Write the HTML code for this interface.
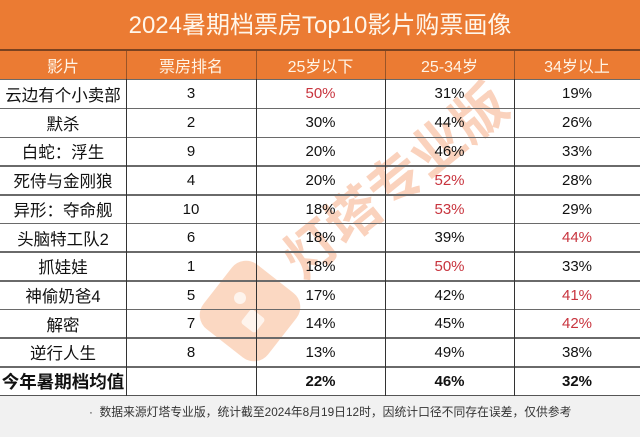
<!DOCTYPE html>
<html><head><meta charset="utf-8">
<style>
*{margin:0;padding:0;box-sizing:border-box}
html,body{width:640px;height:437px;overflow:hidden;background:#fff}
body{position:relative;font-family:"Liberation Sans","Noto Sans CJK SC",sans-serif;color:#111}
.title{position:absolute;left:0;top:0;width:640px;height:50px;background:#EB7B33;color:#fff6ea;font-size:24px;line-height:52px;text-align:center;letter-spacing:0px}
.hdr{position:absolute;left:0;top:49px;width:640px;height:30px;background:#EB7B33;border-top:2px solid #7a4220}
.c{position:absolute;display:flex;align-items:center;justify-content:center;white-space:nowrap}
.h{color:#fff4e6;font-size:16px}
.n{font-size:16.5px;color:#111}
.v{font-size:15px;color:#111}
.r{color:#c8343e}
.b{font-weight:bold}
.hl{position:absolute;left:0;width:640px;height:1.5px;background:#6a6a6a}
.vl{position:absolute;width:1.3px;background:#333}
.foot{position:absolute;left:0;top:396px;width:640px;height:41px;background:#f1f1f1;color:#333;font-size:11.8px;line-height:32px}
.foot span{position:absolute;left:89px;top:0}
</style></head><body>
<div class="title">2024暑期档票房Top10影片购票画像</div>
<div class="hdr"></div>

<svg style="position:absolute;left:0;top:0" width="640" height="437">
  <g opacity="0.38">
    <rect x="209" y="270" width="82" height="82" rx="18" transform="rotate(38 250 311)" fill="#f59a62"/>
    <circle cx="240" cy="298" r="6" fill="#fde3d2"/>
    <rect x="244" y="312" width="18" height="18" rx="3" transform="rotate(38 253 321)" fill="#fde3d2"/>
    <text x="396" y="200" font-size="54" fill="#f28a55" text-anchor="middle" transform="rotate(-39 396 182)" font-family="Noto Sans CJK SC, sans-serif" font-weight="bold">灯塔专业版</text>
  </g>
</svg>

<div class="foot"><span>·&nbsp;&nbsp;数据来源灯塔专业版，统计截至2024年8月19日12时，因统计口径不同存在误差，仅供参考</span></div>

<div class="c h" style="left:0;top:50px;width:126px;height:29px">影片</div>
<div class="c h" style="left:126px;top:50px;width:130px;height:29px">票房排名</div>
<div class="c h" style="left:256px;top:50px;width:129px;height:29px">25岁以下</div>
<div class="c h" style="left:385px;top:50px;width:129px;height:29px">25-34岁</div>
<div class="c h" style="left:514px;top:50px;width:126px;height:29px">34岁以上</div>

<div class="hl" style="top:78.5px"></div>
<div class="hl" style="top:107.5px"></div>
<div class="hl" style="top:136.5px"></div>
<div class="hl" style="top:165px"></div>
<div class="hl" style="top:194px"></div>
<div class="hl" style="top:222.5px"></div>
<div class="hl" style="top:251px"></div>
<div class="hl" style="top:280px"></div>
<div class="hl" style="top:308.5px"></div>
<div class="hl" style="top:337px"></div>
<div class="hl" style="top:366px"></div>
<div class="hl" style="top:394.5px;background:#555"></div>

<div class="vl" style="left:125.5px;top:51px;height:28px;background:#9a5528"></div>
<div class="vl" style="left:255.5px;top:51px;height:28px;background:#9a5528"></div>
<div class="vl" style="left:384.5px;top:51px;height:28px;background:#9a5528"></div>
<div class="vl" style="left:513.5px;top:51px;height:28px;background:#9a5528"></div>
<div class="vl" style="left:125.5px;top:79px;height:317px"></div>
<div class="vl" style="left:255.5px;top:79px;height:317px"></div>
<div class="vl" style="left:384.5px;top:79px;height:317px"></div>
<div class="vl" style="left:513.5px;top:79px;height:317px"></div>

<div class="c n" style="left:0;top:79px;width:126px;height:29px">云边有个小卖部</div>
<div class="c v" style="left:126px;top:79px;width:130px;height:29px">3</div>
<div class="c v r" style="left:256px;top:79px;width:129px;height:29px">50%</div>
<div class="c v" style="left:385px;top:79px;width:129px;height:29px">31%</div>
<div class="c v" style="left:514px;top:79px;width:126px;height:29px">19%</div>

<div class="c n" style="left:0;top:108px;width:126px;height:29px">默杀</div>
<div class="c v" style="left:126px;top:108px;width:130px;height:29px">2</div>
<div class="c v" style="left:256px;top:108px;width:129px;height:29px">30%</div>
<div class="c v" style="left:385px;top:108px;width:129px;height:29px">44%</div>
<div class="c v" style="left:514px;top:108px;width:126px;height:29px">26%</div>

<div class="c n" style="left:0;top:137px;width:126px;height:28px">白蛇：浮生</div>
<div class="c v" style="left:126px;top:137px;width:130px;height:28px">9</div>
<div class="c v" style="left:256px;top:137px;width:129px;height:28px">20%</div>
<div class="c v" style="left:385px;top:137px;width:129px;height:28px">46%</div>
<div class="c v" style="left:514px;top:137px;width:126px;height:28px">33%</div>

<div class="c n" style="left:0;top:166px;width:126px;height:28px">死侍与金刚狼</div>
<div class="c v" style="left:126px;top:166px;width:130px;height:28px">4</div>
<div class="c v" style="left:256px;top:166px;width:129px;height:28px">20%</div>
<div class="c v r" style="left:385px;top:166px;width:129px;height:28px">52%</div>
<div class="c v" style="left:514px;top:166px;width:126px;height:28px">28%</div>

<div class="c n" style="left:0;top:195px;width:126px;height:28px">异形：夺命舰</div>
<div class="c v" style="left:126px;top:195px;width:130px;height:28px">10</div>
<div class="c v" style="left:256px;top:195px;width:129px;height:28px">18%</div>
<div class="c v r" style="left:385px;top:195px;width:129px;height:28px">53%</div>
<div class="c v" style="left:514px;top:195px;width:126px;height:28px">29%</div>

<div class="c n" style="left:0;top:223px;width:126px;height:29px">头脑特工队2</div>
<div class="c v" style="left:126px;top:223px;width:130px;height:29px">6</div>
<div class="c v" style="left:256px;top:223px;width:129px;height:29px">18%</div>
<div class="c v" style="left:385px;top:223px;width:129px;height:29px">39%</div>
<div class="c v r" style="left:514px;top:223px;width:126px;height:29px">44%</div>

<div class="c n" style="left:0;top:252px;width:126px;height:28px">抓娃娃</div>
<div class="c v" style="left:126px;top:252px;width:130px;height:28px">1</div>
<div class="c v" style="left:256px;top:252px;width:129px;height:28px">18%</div>
<div class="c v r" style="left:385px;top:252px;width:129px;height:28px">50%</div>
<div class="c v" style="left:514px;top:252px;width:126px;height:28px">33%</div>

<div class="c n" style="left:0;top:281px;width:126px;height:28px">神偷奶爸4</div>
<div class="c v" style="left:126px;top:281px;width:130px;height:28px">5</div>
<div class="c v" style="left:256px;top:281px;width:129px;height:28px">17%</div>
<div class="c v" style="left:385px;top:281px;width:129px;height:28px">42%</div>
<div class="c v r" style="left:514px;top:281px;width:126px;height:28px">41%</div>

<div class="c n" style="left:0;top:309px;width:126px;height:29px">解密</div>
<div class="c v" style="left:126px;top:309px;width:130px;height:29px">7</div>
<div class="c v" style="left:256px;top:309px;width:129px;height:29px">14%</div>
<div class="c v" style="left:385px;top:309px;width:129px;height:29px">45%</div>
<div class="c v r" style="left:514px;top:309px;width:126px;height:29px">42%</div>

<div class="c n" style="left:0;top:338px;width:126px;height:28px">逆行人生</div>
<div class="c v" style="left:126px;top:338px;width:130px;height:28px">8</div>
<div class="c v" style="left:256px;top:338px;width:129px;height:28px">13%</div>
<div class="c v" style="left:385px;top:338px;width:129px;height:28px">49%</div>
<div class="c v" style="left:514px;top:338px;width:126px;height:28px">38%</div>

<div class="c n b" style="left:0;top:367px;width:126px;height:28px;font-size:17.5px">今年暑期档均值</div>
<div class="c v b" style="left:256px;top:367px;width:129px;height:28px">22%</div>
<div class="c v b" style="left:385px;top:367px;width:129px;height:28px">46%</div>
<div class="c v b" style="left:514px;top:367px;width:126px;height:28px">32%</div>
</body></html>
